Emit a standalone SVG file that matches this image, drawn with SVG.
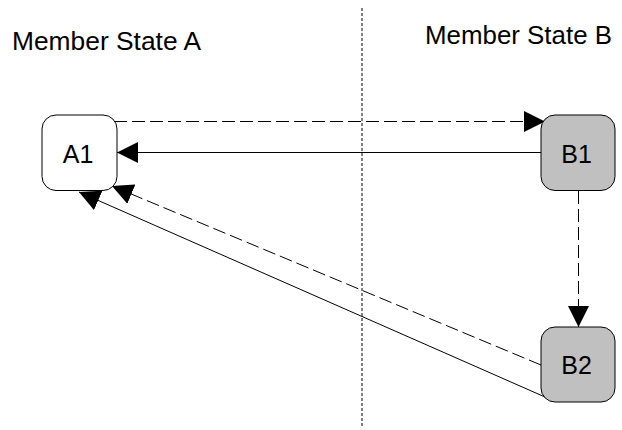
<svg xmlns="http://www.w3.org/2000/svg" width="622" height="430" viewBox="0 0 622 430">
  <style>
    .lbl { font-family: "Liberation Sans", Arial, sans-serif; fill: #000; }
    .head { font-size: 25.5px; }
    .node-text { font-size: 25px; text-anchor: middle; }
    .box { stroke: #000; stroke-width: 1; }
    .boxA { fill: #fff; }
    .boxB { fill: #c0c0c0; }
    .conn { stroke: #000; stroke-width: 1; fill: none; }
    .dash { stroke-dasharray: 13 5; }
    .divider { stroke: #000; stroke-width: 1; stroke-dasharray: 3 2; fill: none; }
  </style>
  <defs>
    <marker id="arrow" markerUnits="userSpaceOnUse" markerWidth="21" markerHeight="21" refX="21" refY="10.5" orient="auto">
      <path d="M0,0 L21,10.5 L0,21 z" fill="#000"/>
    </marker>
  </defs>
  <rect x="0" y="0" width="622" height="430" fill="#fff"/>

  <line class="divider" x1="362" y1="8" x2="362" y2="428"/>

  <text class="lbl head" x="12" y="49.5" textLength="189" lengthAdjust="spacingAndGlyphs">Member State A</text>
  <text class="lbl head" x="425" y="44" textLength="187" lengthAdjust="spacingAndGlyphs">Member State B</text>

  <g id="connectors">
    <line class="conn dash" x1="114" y1="121.5" x2="545" y2="121.5" marker-end="url(#arrow)"/>
    <line class="conn" x1="541" y1="152.5" x2="117" y2="152.5" marker-end="url(#arrow)"/>
    <line class="conn dash" x1="578.5" y1="191" x2="578.5" y2="327" marker-end="url(#arrow)"/>
    <line class="conn dash" x1="541" y1="365" x2="112" y2="186" marker-end="url(#arrow)"/>
    <line class="conn" x1="545" y1="397" x2="79" y2="192" marker-end="url(#arrow)"/>
  </g>

  <g id="A1">
    <rect class="box boxA" x="42" y="115" width="75" height="75.5" rx="14" ry="14"/>
    <text class="lbl node-text" x="78" y="163">A1</text>
  </g>
  <g id="B1">
    <rect class="box boxB" x="541" y="115" width="74" height="75.5" rx="14" ry="14"/>
    <text class="lbl node-text" x="576.5" y="163">B1</text>
  </g>
  <g id="B2">
    <rect class="box boxB" x="541" y="327" width="74" height="75" rx="14" ry="14"/>
    <text class="lbl node-text" x="576.5" y="374">B2</text>
  </g>
</svg>
